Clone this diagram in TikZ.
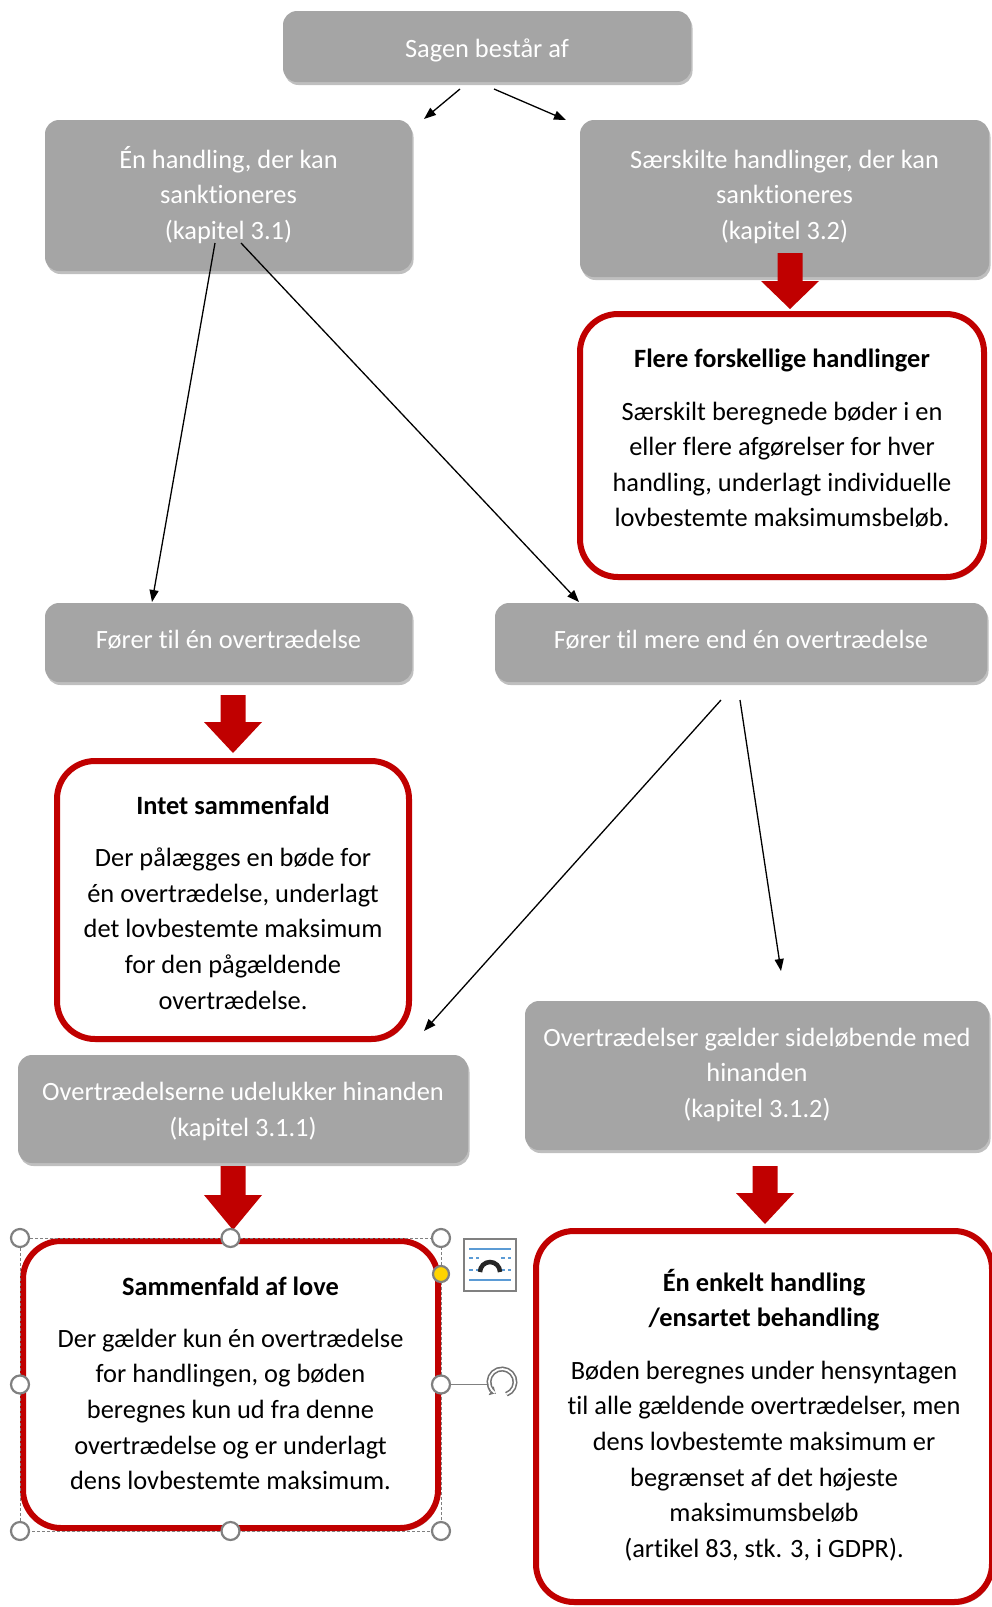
\documentclass[tikz,border=0pt]{standalone}
\usepackage{fontspec}
\setmainfont{Carlito}[Ligatures={NoCommon}]
\usetikzlibrary{arrows.meta,shadows}
\definecolor{boxgray}{HTML}{A5A5A5}
\definecolor{dkred}{HTML}{C00000}
\definecolor{hblue}{HTML}{5B9BD5}
\definecolor{hyellow}{HTML}{FFD400}
\newcommand{\topstr}{\rule{0pt}{36pt}}
\newcommand{\botstr}[1]{\rule[-#1]{0pt}{#1}}
\tikzset{
  shad/.style={drop shadow={shadow xshift=1.5pt, shadow yshift=-3pt, opacity=0.25, fill=black}},
  graybox/.style={draw=none, fill=boxgray, rounded corners=14pt, text=white, align=center, inner sep=0pt, shad},
  redbox/.style={draw=dkred, line width=6pt, fill=white, rounded corners=38pt, text=black, align=center, inner sep=0pt, shad},
  conn/.style={-{Triangle[length=12pt,width=9pt]}, line width=1.3pt, black},
  blockarrow/.style={fill=dkred},
  handle/.style={circle, draw=black!50, fill=white, line width=2.2pt, minimum size=18pt, inner sep=0pt},
}
\begin{document}
\begin{tikzpicture}[x=1pt, y=-1pt, font=\fontsize{26.4}{35.6}\selectfont]
\useasboundingbox (0,0) rectangle (992,1607);

% gray boxes
\node[graybox, minimum width=408pt, minimum height=71pt, text height=36pt, text depth=14.4pt] (top) at (487,46.5) {Sagen består af};
\node[graybox, minimum width=367pt, minimum height=151pt] (A) at (228.5,195.5) {\topstr Én handling, der kan\\ sanktioneres\\ (kapitel 3.1)\botstr{19.8pt}};
\node[graybox, minimum width=409pt, minimum height=157pt] (B) at (784.5,198.5) {\topstr Særskilte handlinger, der kan\\ sanktioneres\\ (kapitel 3.2)\botstr{25.8pt}};
\node[graybox, minimum width=367pt, minimum height=79pt, text height=36pt, text depth=23.7pt] (C) at (228.5,642.5) {Fører til én overtrædelse};
\node[graybox, minimum width=492pt, minimum height=79pt, text height=36pt, text depth=23.7pt] (D) at (741,642.5) {Fører til mere end én overtrædelse};
\node[graybox, minimum width=450pt, minimum height=108pt] (E) at (243,1109) {\topstr Overtrædelserne udelukker hinanden\\ (kapitel 3.1.1)\botstr{17.3pt}};
\node[graybox, minimum width=464pt, minimum height=149pt] (F) at (757,1075.5) {\topstr Overtrædelser gælder sideløbende med\\ hinanden\\ (kapitel 3.1.2)\botstr{23.3pt}};

% red boxes
\node[redbox, minimum width=404pt, minimum height=263pt] (flere) at (782,445.5)
  {\topstr\textbf{Flere forskellige handlinger}\\[16.5pt] Særskilt beregnede bøder i en\\ eller flere afgørelser for hver\\ handling, underlagt individuelle\\ lovbestemte maksimumsbeløb.\botstr{32.3pt}};
\node[redbox, minimum width=352pt, minimum height=278pt] (intet) at (233,900)
  {\topstr\textbf{Intet sammenfald}\\[16.5pt] Der pålægges en bøde for\\ én overtrædelse, underlagt\\ det lovbestemte maksimum\\ for den pågældende\\ overtrædelse.\botstr{12.2pt}};
\node[redbox, minimum width=415pt, minimum height=287pt] (G) at (230.5,1384.5)
  {\topstr\textbf{Sammenfald af love}\\[16.5pt] Der gælder kun én overtrædelse\\ for handlingen, og bøden\\ beregnes kun ud fra denne\\ overtrædelse og er underlagt\\ dens lovbestemte maksimum.\botstr{20pt}};
\node[redbox, minimum width=456pt, minimum height=371pt] (H) at (764,1416.5)
  {\topstr\textbf{Én enkelt handling}\\ \textbf{/ensartet behandling}\\[17pt] Bøden beregnes under hensyntagen\\ til alle gældende overtrædelser, men\\ dens lovbestemte maksimum er\\ begrænset af det højeste\\ maksimumsbeløb\\ (artikel 83, stk. 3, i GDPR).\botstr{20.5pt}};

% block arrows
\fill[blockarrow] (777.5,253) -- (802.5,253) -- (802.5,281) -- (819,281) -- (790,309) -- (761,281) -- (777.5,281) -- cycle;
\fill[blockarrow] (220.5,695) -- (245.5,695) -- (245.5,722) -- (262,722) -- (233,753) -- (204,722) -- (220.5,722) -- cycle;
\fill[blockarrow] (220.5,1166) -- (245.5,1166) -- (245.5,1195) -- (262,1195) -- (233,1230) -- (204,1195) -- (220.5,1195) -- cycle;
\fill[blockarrow] (752.5,1166) -- (777.5,1166) -- (777.5,1193) -- (794,1193) -- (765,1224) -- (736,1193) -- (752.5,1193) -- cycle;

% connector end points
\coordinate (t1) at (460,89);  \coordinate (t1e) at (424,119);
\coordinate (t2) at (494,89);  \coordinate (t2e) at (566,120);
\coordinate (a1) at (215,243); \coordinate (a1e) at (152,602);
\coordinate (a2) at (241,243); \coordinate (a2e) at (579,602);
\coordinate (d1) at (721,700); \coordinate (d1e) at (424,1031);
\coordinate (d2) at (740,700); \coordinate (d2e) at (781,971);
\draw[conn] (t1) -- (t1e);
\draw[conn] (t2) -- (t2e);
\draw[conn] (a1) -- (a1e);
\draw[conn] (a2) -- (a2e);
\draw[conn] (d1) -- (d1e);
\draw[conn] (d2) -- (d2e);

% selection handles around G
\draw[black!50, densely dashed, line width=0.8pt] (20,1238) rectangle (441,1531);
\foreach \hx/\hy/\hn in {20/1238/h1, 230.5/1238/h2, 441/1238/h3, 20/1384.5/h4, 441/1384.5/h5, 20/1531/h6, 230.5/1531/h7, 441/1531/h8}
  \node[handle] (\hn) at (\hx,\hy) {};
\node[handle, fill=hyellow, minimum size=16pt] (hy) at (441,1274) {};
\coordinate (rot) at (487,1384.5);
\draw[black!50, line width=1.5pt] (h5) -- (rot);
\draw[black!55, line width=5pt, -{Triangle[length=5pt,width=10pt]}] (502,1382) ++(290:13pt) arc[start angle=290, end angle=600, radius=13pt];
\draw[white, line width=1.8pt] (502,1382) ++(290:13pt) arc[start angle=290, end angle=598, radius=13pt];
% layout options icon
\node[draw=black!50, fill=white, line width=1.2pt, minimum width=52pt, minimum height=52pt, inner sep=0pt] (icon) at (490,1265) {};
\draw[hblue, line width=1.5pt] (469,1249) -- (511,1249) (469,1280) -- (511,1280);
\draw[hblue, line width=1.5pt, dash pattern=on 4pt off 3pt] (469,1258) -- (479,1258) (501,1258) -- (511,1258) (469,1270) -- (479,1270) (501,1270) -- (511,1270);
\draw[black!85, line width=4.5pt] (480,1272) arc[start angle=180, end angle=0, radius=10pt];
\end{tikzpicture}
\end{document}
